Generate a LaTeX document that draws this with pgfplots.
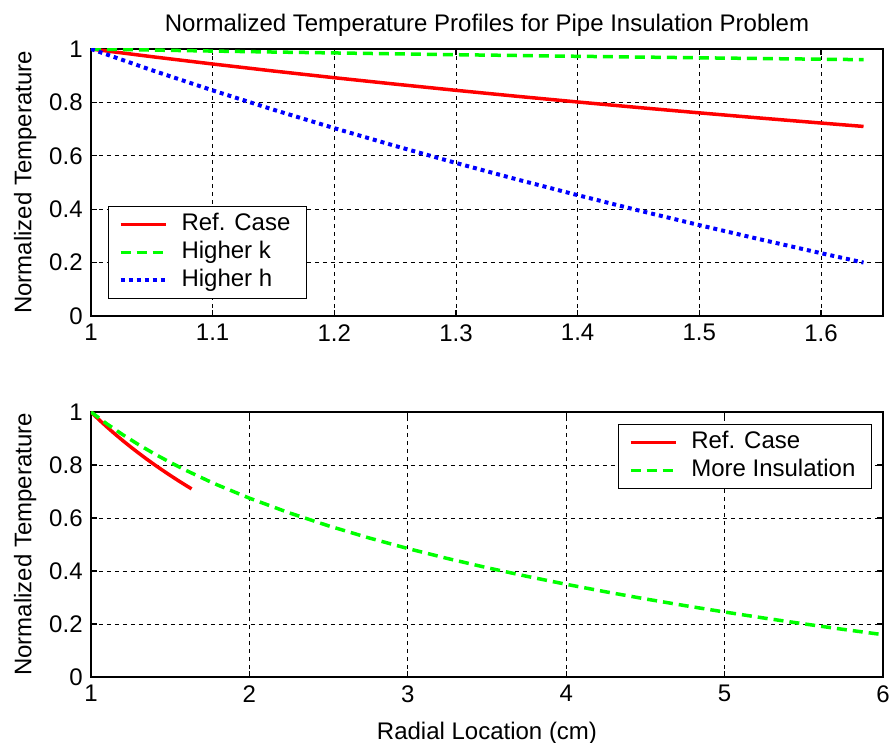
\documentclass[border=0pt]{standalone}
\usepackage{fontspec}
\setmainfont{Liberation Sans}
\usepackage{pgfplots}
\usepackage{pgfplotstable}
\pgfplotsset{compat=1.18}

% normalized temperature vs radius
\pgfplotstableread{
r      ref     k       h
1.00   1.0000  1.0000  1.0000
1.05   0.9712  0.9960  0.9206
1.10   0.9438  0.9922  0.8449
1.15   0.9175  0.9886  0.7726
1.20   0.8924  0.9852  0.7034
1.25   0.8684  0.9818  0.6370
1.30   0.8452  0.9786  0.5731
1.35   0.8229  0.9756  0.5117
1.40   0.8015  0.9726  0.4526
1.45   0.7808  0.9698  0.3955
1.50   0.7608  0.9670  0.3403
1.55   0.7414  0.9643  0.2870
1.60   0.7227  0.9617  0.2353
1.635  0.7099  0.9600  0.2001
}\tbltop

\pgfplotstableread{
r      T
1.00   1.0000
1.10   0.9553
1.20   0.9145
1.30   0.8770
1.40   0.8422
1.50   0.8098
1.60   0.7796
1.75   0.7375
1.80   0.7243
2.00   0.6749
2.25   0.6197
2.50   0.5703
2.75   0.5256
3.00   0.4848
3.25   0.4472
3.50   0.4125
3.75   0.3801
4.00   0.3498
4.25   0.3214
4.50   0.2946
4.75   0.2692
5.00   0.2452
5.25   0.2223
5.50   0.2005
5.75   0.1796
6.00   0.1597
}\tblins

\definecolor{mred}{RGB}{255,0,0}
\definecolor{mgreen}{RGB}{0,255,0}
\definecolor{mblue}{RGB}{0,0,255}

\pgfplotsset{
  mstyle/.style={
    scale only axis,
    width=396pt,
    anchor=south west,
    axis line style={black, line width=0.6pt},
    every tick/.style={black, line width=0.6pt},
    major tick length=3pt,
    tick align=inside,
    xtick pos=both, ytick pos=both,
    grid=major,
    major grid style={black, line width=0.4pt, dash pattern=on 2pt off 2pt},
    ymin=0, ymax=1,
    ytick={0,0.2,...,1},
    yticklabels={0,0.2,0.4,0.6,0.8,1},
    /pgf/number format/assume math mode=true,
    ylabel={Normalized Temperature},
    ylabel style={at={(axis description cs:-0.083,0.5)}, anchor=center, rotate=0},
    legend cell align=left,
    legend image code/.code={\draw[##1] (0pt,0pt) (2pt,0pt) -- (24.5pt,0pt) (26.5pt,0pt);},
    legend style={draw=black, line width=0.5pt, inner xsep=3pt, inner ysep=2pt,
      row sep=0pt,
      nodes={inner ysep=1pt, inner xsep=5pt, text height=9pt, text depth=3pt}},
  },
  refl/.style={mred, line width=1.75pt},
  kl/.style={mgreen, line width=1.75pt, dash pattern=on 5pt off 3pt},
  hl/.style={mblue, line width=2pt, dash pattern=on 2pt off 2pt},
}

\begin{document}
\fontsize{12}{14}\selectfont
\begin{tikzpicture}

\begin{axis}[mstyle,
  at={(45.5pt,213.5pt)},
  height=133.5pt,
  xmin=1, xmax=1.651,
  xtick={1,1.1,1.2,1.3,1.4,1.5,1.6},
  xticklabels={1,1.1,1.2,1.3,1.4,1.5,1.6},
  title={Normalized Temperature Profiles for Pipe Insulation Problem},
  title style={at={(axis description cs:0.5,1)}, anchor=center, yshift=6pt},
  legend style={at={(0.0215,0.412)}, anchor=north west},
]
\addplot[refl] table[x=r, y=ref] {\tbltop};
\addlegendentry{Ref. Case}
\addplot[kl] table[x=r, y=k] {\tbltop};
\addlegendentry{Higher k}
\addplot[hl] table[x=r, y=h] {\tbltop};
\addlegendentry{Higher h}
\end{axis}

\begin{axis}[mstyle,
  at={(45.5pt,33pt)},
  height=132.5pt,
  xmin=1, xmax=6,
  xtick={1,2,3,4,5,6},
  xlabel={Radial Location (cm)},
  xlabel style={at={(axis description cs:0.5,0)}, anchor=center, yshift=-28pt},
  legend style={at={(0.986,0.955)}, anchor=north east},
]
\addplot[refl] table[x=r, y=ref] {\tbltop};
\addlegendentry{Ref. Case}
\addplot[kl] table[x=r, y=T] {\tblins};
\addlegendentry{More Insulation}
\end{axis}

\pgfresetboundingbox
\useasboundingbox (0,0) rectangle (445.5pt,371.5pt);
\end{tikzpicture}
\end{document}
